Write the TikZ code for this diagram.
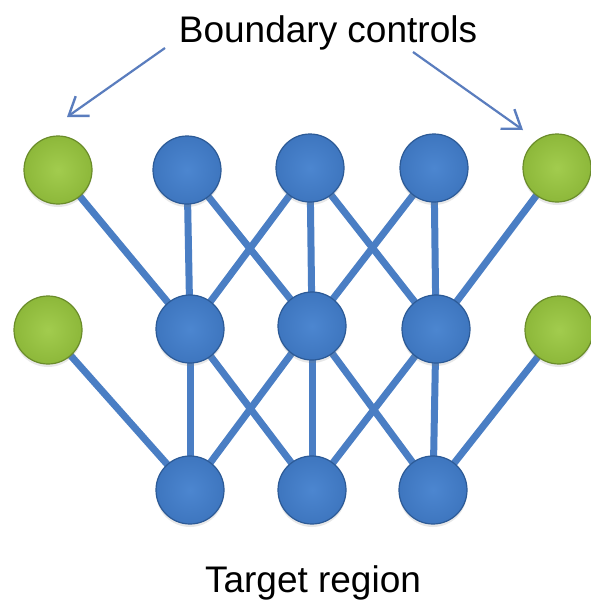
\documentclass[tikz,border=0pt]{standalone}
\usepackage{fontspec}
\setmainfont{Liberation Sans}
\usetikzlibrary{arrows.meta,backgrounds,shadows}
\definecolor{nblue}{HTML}{3E76BF}
\definecolor{nbluein}{HTML}{4C86D0}
\definecolor{nblueedge}{HTML}{2C5A96}
\definecolor{ngreen}{HTML}{8DB83A}
\definecolor{ngreenin}{HTML}{A2CC4E}
\definecolor{ngreenedge}{HTML}{6A8C2A}
\definecolor{linkc}{HTML}{4A7EC4}
\definecolor{arrc}{HTML}{5A7DBE}
\tikzset{
  x=1pt, y=-1pt,
  bnode/.style={circle, minimum size=68pt, inner sep=0pt, draw=nblueedge, line width=1.2pt,
    inner color=nbluein, outer color=nblue,
    drop shadow={opacity=0.18, shadow xshift=0pt, shadow yshift=-3pt}},
  gnode/.style={circle, minimum size=68pt, inner sep=0pt, draw=ngreenedge, line width=1.2pt,
    inner color=ngreenin, outer color=ngreen,
    drop shadow={opacity=0.18, shadow xshift=0pt, shadow yshift=-3pt}},
  link/.style={draw=linkc, line width=7pt},
  pointer/.style={draw=arrc, line width=2.2pt, -{Straight Barb[length=17pt,width=24pt,line width=2.4pt]}},
  label/.style={font=\fontsize{37}{42}\selectfont, text=black, inner sep=0pt}
}
\begin{document}
\begin{tikzpicture}
\useasboundingbox (0,0) rectangle (591,608);
% top row
\node[gnode] (g1) at (58,170) {};
\node[bnode] (t1) at (187,170) {};
\node[bnode] (t2) at (310,168) {};
\node[bnode] (t3) at (434,168) {};
\node[gnode] (g2) at (557,168) {};
% middle row
\node[gnode] (g3) at (48,330) {};
\node[bnode] (m1) at (190,329) {};
\node[bnode] (m2) at (312,326) {};
\node[bnode] (m3) at (436,329) {};
\node[gnode] (g4) at (559,330) {};
% bottom row
\node[bnode] (b1) at (190,490) {};
\node[bnode] (b2) at (312,490) {};
\node[bnode] (b3) at (433,490) {};
\begin{scope}[on background layer]
\fill[white] (0,0) rectangle (591,608);
\draw[link] (g1.center) -- (m1.center);
\draw[link] (t1.center) -- (m1.center);
\draw[link] (t1.center) -- (m2.center);
\draw[link] (t2.center) -- (m1.center);
\draw[link] (t2.center) -- (m2.center);
\draw[link] (t2.center) -- (m3.center);
\draw[link] (t3.center) -- (m2.center);
\draw[link] (t3.center) -- (m3.center);
\draw[link] (g2.center) -- (m3.center);
\draw[link] (g3.center) -- (b1.center);
\draw[link] (m1.center) -- (b1.center);
\draw[link] (m1.center) -- (b2.center);
\draw[link] (m2.center) -- (b1.center);
\draw[link] (m2.center) -- (b2.center);
\draw[link] (m2.center) -- (b3.center);
\draw[link] (m3.center) -- (b2.center);
\draw[link] (m3.center) -- (b3.center);
\draw[link] (g4.center) -- (b3.center);
\end{scope}
% labels
\node[label] (bc) at (328,33) {Boundary controls};
\node[label] (tr) at (313,583) {Target region};
\coordinate (lt) at (67,117);
\coordinate (rt) at (523,130);
\coordinate (ls) at (165,48);
\coordinate (rs) at (413,52);
\draw[pointer] (ls) -- (lt);
\draw[pointer] (rs) -- (rt);
\end{tikzpicture}
\end{document}
